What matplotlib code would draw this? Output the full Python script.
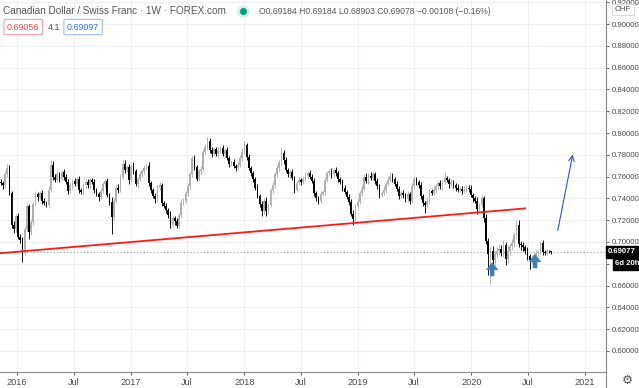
import numpy as np
import pandas as pd
import matplotlib
matplotlib.use("Agg")
import matplotlib.pyplot as plt
import matplotlib.dates as mdates
from matplotlib.lines import Line2D
from matplotlib.patches import Rectangle

# weekly CAD/CHF candles (FOREX.com)
first_week = "2015-11-09"
first_open = 0.7555
closes = [
    0.754, 0.752, 0.762, 0.768, 0.745, 0.716, 0.712, 0.724, 0.705, 0.702, 0.691, 0.712, 0.733,
    0.709, 0.718, 0.735, 0.744, 0.741, 0.745, 0.738, 0.736, 0.734, 0.748, 0.771, 0.760, 0.757,
    0.762, 0.758, 0.764, 0.760, 0.755, 0.747, 0.752, 0.756, 0.753, 0.758, 0.748, 0.746, 0.752,
    0.755, 0.752, 0.757, 0.755, 0.748, 0.744, 0.741, 0.747, 0.753, 0.756, 0.743, 0.737, 0.723,
    0.738, 0.750, 0.748, 0.760, 0.772, 0.766, 0.769, 0.757, 0.770, 0.765, 0.753, 0.758, 0.762,
    0.765, 0.768, 0.770, 0.754, 0.748, 0.742, 0.739, 0.750, 0.752, 0.736, 0.733, 0.729, 0.725,
    0.716, 0.722, 0.719, 0.715, 0.725, 0.736, 0.738, 0.745, 0.751, 0.762, 0.777, 0.769, 0.758,
    0.765, 0.767, 0.783, 0.787, 0.793, 0.784, 0.781, 0.785, 0.781, 0.784, 0.786, 0.781, 0.784,
    0.777, 0.772, 0.773, 0.770, 0.768, 0.771, 0.777, 0.783, 0.789, 0.778, 0.768, 0.763, 0.758,
    0.750, 0.742, 0.735, 0.728, 0.738, 0.728, 0.734, 0.748, 0.752, 0.762, 0.768, 0.773, 0.782,
    0.775, 0.766, 0.762, 0.764, 0.759, 0.748, 0.754, 0.757, 0.755, 0.758, 0.761, 0.763, 0.760,
    0.756, 0.745, 0.740, 0.738, 0.744, 0.746, 0.757, 0.763, 0.765, 0.762, 0.766, 0.763, 0.758,
    0.755, 0.750, 0.746, 0.741, 0.737, 0.726, 0.721, 0.733, 0.737, 0.745, 0.749, 0.760, 0.756,
    0.761, 0.759, 0.762, 0.756, 0.751, 0.743, 0.745, 0.748, 0.753, 0.757, 0.761, 0.758, 0.753,
    0.749, 0.742, 0.745, 0.743, 0.739, 0.744, 0.738, 0.751, 0.758, 0.755, 0.752, 0.742, 0.736,
    0.734, 0.738, 0.747, 0.745, 0.748, 0.751, 0.754, 0.751, 0.755, 0.759, 0.757, 0.753, 0.755,
    0.752, 0.750, 0.748, 0.749, 0.747, 0.748, 0.750, 0.749, 0.743, 0.740, 0.738, 0.730, 0.734,
    0.740, 0.722, 0.701, 0.689, 0.692, 0.683, 0.689, 0.692, 0.694, 0.690, 0.697, 0.684, 0.692,
    0.696, 0.699, 0.706, 0.716, 0.698, 0.697, 0.695, 0.692, 0.687, 0.683, 0.685, 0.688, 0.690,
    0.691, 0.699, 0.691, 0.690, 0.692, 0.69184, 0.69078,
]
# wick lengths beyond the body, in units of 0.001
wick_up = [
    2, 2, 3, 4, 3, 2, 3, 2, 3, 2, 3, 2, 3,
    2, 3, 2, 3, 2, 2, 3, 2, 2, 3, 4, 3, 2,
    3, 2, 2, 3, 2, 3, 2, 2, 3, 2, 3, 2, 2,
    2, 3, 2, 2, 3, 2, 2, 3, 2, 2, 3, 2, 4,
    2, 2, 3, 2, 4, 3, 2, 3, 2, 3, 2, 2, 3,
    2, 3, 2, 3, 2, 2, 3, 2, 3, 2, 2, 3, 2,
    3, 2, 2, 3, 2, 3, 2, 2, 3, 2, 2, 3, 2,
    2, 3, 2, 3, 3, 2, 3, 2, 2, 3, 2, 3, 2,
    3, 2, 2, 3, 2, 2, 3, 3, 4, 2, 3, 2, 2,
    2, 3, 2, 3, 2, 3, 2, 2, 3, 2, 3, 2, 5,
    2, 3, 2, 2, 3, 2, 2, 3, 2, 2, 3, 2, 3,
    2, 3, 2, 2, 3, 2, 3, 2, 2, 3, 2, 3, 2,
    2, 3, 2, 2, 3, 2, 3, 2, 3, 2, 3, 2, 3,
    2, 3, 2, 2, 3, 2, 2, 3, 2, 3, 3, 2, 2,
    3, 2, 2, 3, 2, 3, 2, 3, 3, 2, 2, 3, 2,
    2, 3, 2, 2, 3, 2, 2, 3, 2, 5, 2, 2, 3,
    2, 2, 3, 2, 2, 3, 2, 2, 3, 2, 2, 3, 2,
    3, 2, 4, 3, 3, 4, 3, 3, 4, 3, 5, 3, 4,
    3, 4, 3, 4, 4, 3, 3, 2, 3, 2, 3, 2, 3,
    2, 1, 3, 2, 2, 1, 0,
]
wick_dn = [
    2, 3, 2, 2, 2, 3, 4, 3, 2, 3, 9, 3, 2,
    6, 3, 2, 2, 3, 2, 3, 2, 2, 3, 2, 3, 2,
    2, 3, 2, 3, 2, 3, 2, 3, 2, 2, 3, 2, 3,
    2, 2, 3, 2, 3, 2, 3, 2, 2, 3, 2, 3, 16,
    3, 2, 3, 2, 2, 3, 2, 4, 2, 3, 2, 3, 2,
    2, 3, 2, 3, 3, 2, 3, 2, 2, 3, 2, 2, 3,
    3, 2, 3, 2, 2, 3, 2, 2, 3, 2, 2, 3, 2,
    2, 3, 2, 2, 3, 2, 3, 2, 2, 3, 2, 2, 3,
    2, 3, 2, 2, 3, 2, 2, 3, 2, 3, 2, 2, 3,
    2, 2, 3, 4, 2, 4, 2, 2, 3, 2, 2, 3, 2,
    3, 2, 2, 3, 2, 3, 2, 2, 3, 2, 2, 3, 2,
    2, 3, 2, 3, 2, 2, 3, 2, 2, 3, 2, 2, 3,
    2, 3, 2, 2, 3, 2, 5, 3, 2, 2, 3, 2, 2,
    3, 2, 2, 3, 2, 3, 2, 2, 3, 2, 2, 3, 2,
    2, 3, 2, 3, 2, 2, 3, 2, 2, 3, 2, 3, 3,
    7, 2, 3, 2, 2, 3, 2, 2, 3, 2, 2, 3, 2,
    2, 3, 2, 2, 3, 2, 2, 3, 2, 3, 2, 4, 3,
    2, 4, 3, 19, 28, 5, 4, 3, 4, 3, 4, 5, 3,
    4, 3, 4, 3, 3, 4, 3, 3, 4, 8, 3, 3, 2,
    3, 2, 3, 2, 2, 2, 1.75,
]

price_ticks = [0.60, 0.62, 0.64, 0.66, 0.68, 0.70, 0.72, 0.74, 0.76, 0.78,
               0.80, 0.82, 0.84, 0.86, 0.88, 0.90, 0.92]
# 0.68000 sits under the countdown tag, so its label is left blank
price_labels = ["0.60000", "0.62000", "0.64000", "0.66000", "", "0.70000", "0.72000",
                "0.74000", "0.76000", "0.78000", "0.80000", "0.82000", "0.84000",
                "0.86000", "0.88000", "0.90000", "0.92000"]
time_ticks = ["2016-01-01", "2016-07-01", "2017-01-01", "2017-07-01", "2018-01-01",
              "2018-07-01", "2019-01-01", "2019-07-01", "2020-01-01", "2020-07-01",
              "2021-01-01"]
time_labels = ["2016", "Jul", "2017", "Jul", "2018", "Jul", "2019", "Jul", "2020", "Jul", "2021"]

last_price = 0.69077
trend_dates = ["2015-11-07", "2020-06-22"]
trend_prices = [0.6897, 0.7308]
target_dates = ["2020-10-05", "2020-11-22"]
target_prices = [0.7107, 0.7803]
bottom_marks = [("2020-03-08", 0.6686, 0.6814), ("2020-07-24", 0.6759, 0.6887)]

W, H = 639, 388
TXT = "#4a4a4a"
SANS = ["Liberation Sans", "DejaVu Sans"]

fig = plt.figure(figsize=(W / 100, H / 100), dpi=100)
ax = fig.add_axes([0, 16 / H, 606 / W, 372 / H])

x = mdates.date2num(pd.date_range(first_week, periods=len(closes), freq="7D"))
c = np.array(closes)
o = np.array([first_open] + closes[:-1])
hi = np.maximum(o, c) + np.array(wick_up) * 0.001
lo = np.minimum(o, c) - np.array(wick_dn) * 0.001
cols = np.where(c >= o, "#b0b0b0", "#000000")

ax.vlines(x, lo, hi, colors=cols, lw=0.65, zorder=3)
ax.bar(x, np.abs(c - o), bottom=np.minimum(o, c), width=5, color=cols, lw=0, zorder=3)

ax.axhline(last_price, color="#9598a1", lw=0.8, ls=(0, (1, 2)), zorder=2)
ax.plot(mdates.datestr2num(trend_dates), trend_prices, color="#ff1a1a", lw=1.3, zorder=4)
ax.annotate("", xy=(mdates.datestr2num(target_dates[1]), target_prices[1]),
            xytext=(mdates.datestr2num(target_dates[0]), target_prices[0]),
            arrowprops=dict(arrowstyle="->", color="#2f4fe6", lw=0.8, shrinkA=0, shrinkB=0))
for d, p0, p1 in bottom_marks:
    xd = mdates.datestr2num(d)
    ax.annotate("", xy=(xd, p1), xytext=(xd, p0),
                arrowprops=dict(arrowstyle="simple,head_width=0.9,head_length=0.55,tail_width=0.32",
                                color="#3c7ec2", lw=0, shrinkA=0, shrinkB=0))

ax.set_xlim(mdates.datestr2num("2015-11-07"), mdates.datestr2num("2021-03-09"))
ax.set_ylim(0.58065, 0.92212)

ax.yaxis.tick_right()
ax.set_yticks(price_ticks)
ax.set_yticklabels(price_labels, family=SANS, fontsize=5.6)
ax.set_xticks(mdates.datestr2num(time_ticks))
ax.set_xticklabels(time_labels, family=SANS, fontsize=6.6)
ax.tick_params(axis="both", colors=TXT, length=2.5, width=0.6, pad=2)
ax.tick_params(axis="y", pad=1.5)
ax.grid(color="#eef0f6", lw=0.8)
ax.set_axisbelow(True)
for s in ["top", "left"]:
    ax.spines[s].set_visible(False)
for s in ["right", "bottom"]:
    ax.spines[s].set_color("#8c8c8c")
    ax.spines[s].set_linewidth(0.8)
fig.add_artist(Line2D([606 / W, 606 / W], [0, 16 / H], color="#8c8c8c", lw=0.8))


def fx(px):
    return px / W


def fy(py):
    return 1 - py / H


# header
fig.text(fx(3), fy(11), "Canadian Dollar / Swiss Franc · 1W · FOREX.com",
         fontsize=7.2, color="#555555", va="center", family=SANS)
fig.add_artist(Line2D([fx(243)], [fy(11)], marker="o", ms=8, color="#d6f0e9", lw=0))
fig.add_artist(Line2D([fx(243)], [fy(11)], marker="o", ms=4, color="#089981", lw=0))
fig.text(fx(259), fy(11), "O0.69184 H0.69184 L0.68903 C0.69078 −0.00108 (−0.16%)",
         fontsize=6.2, color="#555555", va="center", family=SANS)
fig.text(fx(7), fy(27), "0.69056", fontsize=6.4, color="#f04a55", va="center", family=SANS,
         bbox=dict(boxstyle="round,pad=0.35,rounding_size=0.15", fc="white", ec="#f5a3a9", lw=0.8))
fig.text(fx(48), fy(27), "4.1", fontsize=6.4, color="#555555", va="center", family=SANS)
fig.text(fx(67), fy(27), "0.69097", fontsize=6.4, color="#2f6fe6", va="center", family=SANS,
         bbox=dict(boxstyle="round,pad=0.35,rounding_size=0.15", fc="white", ec="#9fbdf5", lw=0.8))

# right side labels
fig.text(fx(623), fy(9.5), "CHF", fontsize=5.8, color="#555555", ha="center", va="center",
         family=SANS, zorder=6,
         bbox=dict(boxstyle="square,pad=0.3", fc="white", ec="#dcdcdc", lw=0.8))
fig.add_artist(Rectangle((fx(606), fy(257.5)), fx(639) - fx(606), (257.5 - 246) / H,
                         color="black", zorder=5))
fig.text(fx(608), fy(251.8), "0.69077", fontsize=5.6, color="white", weight="bold",
         va="center", zorder=6, family=SANS)
fig.add_artist(Rectangle((fx(613), fy(269.5)), fx(639) - fx(613), (269.5 - 258) / H,
                         color="black", zorder=5))
fig.text(fx(615), fy(263.8), "6d 20h", fontsize=5.6, color="white", weight="bold",
         va="center", zorder=6, family=SANS)
fig.text(fx(627), fy(380), "⚙", fontsize=9, color="#555555", ha="center", va="center")

fig.savefig("out.png", dpi=100)
